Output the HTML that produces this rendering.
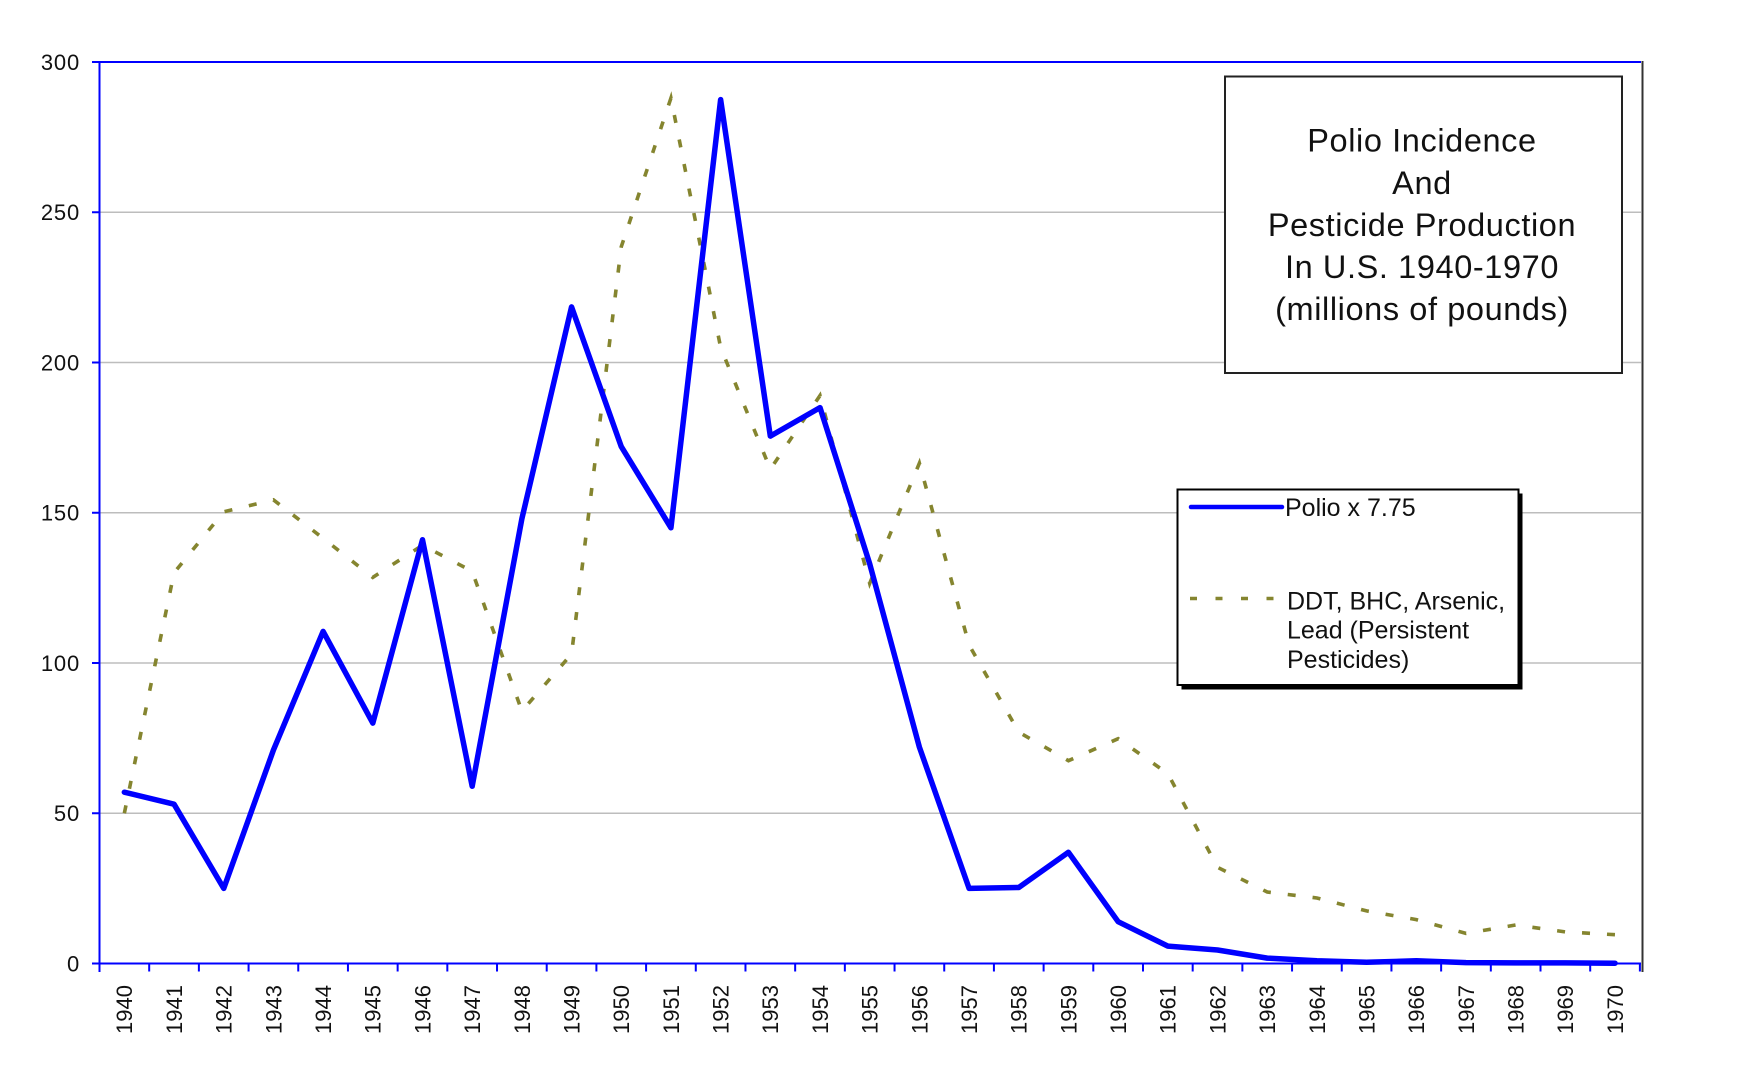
<!DOCTYPE html>
<html>
<head>
<meta charset="utf-8">
<style>
html,body{margin:0;padding:0;background:#fff;}
svg{display:block;}
text{font-family:"Liberation Sans",Arial,sans-serif;fill:#111;}
</style>
</head>
<body>
<svg width="1750" height="1072" viewBox="0 0 1750 1072" xmlns="http://www.w3.org/2000/svg">
<rect x="0" y="0" width="1750" height="1072" fill="#fff"/>

<!-- gridlines -->
<g stroke="#bdbdbd" stroke-width="1.6">
<line x1="99" y1="212.25" x2="1641" y2="212.25"/>
<line x1="99" y1="362.5" x2="1641" y2="362.5"/>
<line x1="99" y1="512.75" x2="1641" y2="512.75"/>
<line x1="99" y1="663" x2="1641" y2="663"/>
<line x1="99" y1="813.25" x2="1641" y2="813.25"/>
</g>

<!-- axes -->
<g stroke="#0000ff" stroke-width="2">
<line x1="92" y1="62" x2="1641" y2="62"/>
<line x1="99.5" y1="62" x2="99.5" y2="972"/>
<line x1="92" y1="963.5" x2="1641" y2="963.5"/>
<line x1="92" y1="212.25" x2="99.5" y2="212.25"/>
<line x1="92" y1="362.5" x2="99.5" y2="362.5"/>
<line x1="92" y1="512.75" x2="99.5" y2="512.75"/>
<line x1="92" y1="663" x2="99.5" y2="663"/>
<line x1="92" y1="813.25" x2="99.5" y2="813.25"/>
</g>
<g stroke="#0000ff" stroke-width="2">
<line x1="99.5" y1="963.5" x2="99.5" y2="971.5"/>
<line x1="149.19" y1="963.5" x2="149.19" y2="971.5"/>
<line x1="198.88" y1="963.5" x2="198.88" y2="971.5"/>
<line x1="248.57" y1="963.5" x2="248.57" y2="971.5"/>
<line x1="298.26" y1="963.5" x2="298.26" y2="971.5"/>
<line x1="347.95" y1="963.5" x2="347.95" y2="971.5"/>
<line x1="397.64" y1="963.5" x2="397.64" y2="971.5"/>
<line x1="447.33" y1="963.5" x2="447.33" y2="971.5"/>
<line x1="497.02" y1="963.5" x2="497.02" y2="971.5"/>
<line x1="546.71" y1="963.5" x2="546.71" y2="971.5"/>
<line x1="596.4" y1="963.5" x2="596.4" y2="971.5"/>
<line x1="646.09" y1="963.5" x2="646.09" y2="971.5"/>
<line x1="695.78" y1="963.5" x2="695.78" y2="971.5"/>
<line x1="745.47" y1="963.5" x2="745.47" y2="971.5"/>
<line x1="795.16" y1="963.5" x2="795.16" y2="971.5"/>
<line x1="844.85" y1="963.5" x2="844.85" y2="971.5"/>
<line x1="894.54" y1="963.5" x2="894.54" y2="971.5"/>
<line x1="944.23" y1="963.5" x2="944.23" y2="971.5"/>
<line x1="993.92" y1="963.5" x2="993.92" y2="971.5"/>
<line x1="1043.61" y1="963.5" x2="1043.61" y2="971.5"/>
<line x1="1093.3" y1="963.5" x2="1093.3" y2="971.5"/>
<line x1="1142.99" y1="963.5" x2="1142.99" y2="971.5"/>
<line x1="1192.68" y1="963.5" x2="1192.68" y2="971.5"/>
<line x1="1242.37" y1="963.5" x2="1242.37" y2="971.5"/>
<line x1="1292.06" y1="963.5" x2="1292.06" y2="971.5"/>
<line x1="1341.75" y1="963.5" x2="1341.75" y2="971.5"/>
<line x1="1391.44" y1="963.5" x2="1391.44" y2="971.5"/>
<line x1="1441.13" y1="963.5" x2="1441.13" y2="971.5"/>
<line x1="1490.82" y1="963.5" x2="1490.82" y2="971.5"/>
<line x1="1540.51" y1="963.5" x2="1540.51" y2="971.5"/>
<line x1="1590.2" y1="963.5" x2="1590.2" y2="971.5"/>
<line x1="1639.89" y1="963.5" x2="1639.89" y2="971.5"/>
</g>
<line x1="1642.5" y1="61" x2="1642.5" y2="972" stroke="#333" stroke-width="2"/>

<!-- y labels -->
<g font-size="22" text-anchor="end" letter-spacing="0.8">
<text x="80" y="70">300</text>
<text x="80" y="220.2">250</text>
<text x="80" y="370.5">200</text>
<text x="80" y="520.7">150</text>
<text x="80" y="671">100</text>
<text x="80" y="821.2">50</text>
<text x="80" y="971.5">0</text>
</g>

<!-- x labels -->
<g font-size="22" text-anchor="end">
<text transform="translate(132.2,985) rotate(-90)">1940</text>
<text transform="translate(181.9,985) rotate(-90)">1941</text>
<text transform="translate(231.6,985) rotate(-90)">1942</text>
<text transform="translate(281.3,985) rotate(-90)">1943</text>
<text transform="translate(331,985) rotate(-90)">1944</text>
<text transform="translate(380.7,985) rotate(-90)">1945</text>
<text transform="translate(430.4,985) rotate(-90)">1946</text>
<text transform="translate(480.1,985) rotate(-90)">1947</text>
<text transform="translate(529.8,985) rotate(-90)">1948</text>
<text transform="translate(579.5,985) rotate(-90)">1949</text>
<text transform="translate(629.1,985) rotate(-90)">1950</text>
<text transform="translate(678.8,985) rotate(-90)">1951</text>
<text transform="translate(728.5,985) rotate(-90)">1952</text>
<text transform="translate(778.2,985) rotate(-90)">1953</text>
<text transform="translate(827.9,985) rotate(-90)">1954</text>
<text transform="translate(877.6,985) rotate(-90)">1955</text>
<text transform="translate(927.3,985) rotate(-90)">1956</text>
<text transform="translate(977,985) rotate(-90)">1957</text>
<text transform="translate(1026.7,985) rotate(-90)">1958</text>
<text transform="translate(1076.4,985) rotate(-90)">1959</text>
<text transform="translate(1126,985) rotate(-90)">1960</text>
<text transform="translate(1175.7,985) rotate(-90)">1961</text>
<text transform="translate(1225.4,985) rotate(-90)">1962</text>
<text transform="translate(1275.1,985) rotate(-90)">1963</text>
<text transform="translate(1324.8,985) rotate(-90)">1964</text>
<text transform="translate(1374.5,985) rotate(-90)">1965</text>
<text transform="translate(1424.2,985) rotate(-90)">1966</text>
<text transform="translate(1473.9,985) rotate(-90)">1967</text>
<text transform="translate(1523.6,985) rotate(-90)">1968</text>
<text transform="translate(1573.2,985) rotate(-90)">1969</text>
<text transform="translate(1622.9,985) rotate(-90)">1970</text>
</g>

<!-- pesticide series (fallback polyline, smoothed by script) -->
<path id="pest" fill="none" stroke="#85852f" stroke-width="3.6" stroke-dasharray="8 17"
d="M124.35,813.2 L174.04,572.8 L223.73,511.8 L273.42,499.8 L323.11,538.3 L372.8,577.4 L422.49,545.2 L472.18,571.3 L521.87,711.1 L571.56,654 L621.25,246.8 L670.94,98.1 L720.63,347.5 L770.32,469.2 L820.01,395.6 L869.7,583.4 L919.39,463.2 L969.08,645 L1018.77,732.1 L1068.46,760.7 L1118.15,738.7 L1167.84,773.6 L1217.53,867.3 L1267.22,892 L1316.91,898 L1366.6,910.9 L1416.29,919.6 L1465.98,933.4 L1515.67,925 L1565.36,931.9 L1615.05,934.7"/>

<!-- polio series -->
<polyline fill="none" stroke="#0000ff" stroke-width="5.5" stroke-linejoin="round" stroke-linecap="round"
points="124.35,792.2 174.04,804.2 223.73,888.4 273.42,750.1 323.11,631.4 372.8,723.1 422.49,539.8 472.18,786.2 521.87,518.8 571.56,306.9 621.25,446.6 670.94,527.8 720.63,99.6 770.32,436.1 820.01,407.6 869.7,563.8 919.39,747.1 969.08,888.4 1018.77,887.5 1068.46,852.3 1118.15,921.7 1167.84,946.1 1217.53,950 1267.22,958.1 1316.91,960.8 1366.6,962.3 1416.29,960.8 1465.98,962.6 1515.67,962.9 1565.36,962.9 1615.05,963.2"/>

<!-- title box -->
<rect x="1225" y="76.5" width="397" height="296.5" fill="#fff" stroke="#222" stroke-width="2"/>
<g font-size="32.5" text-anchor="middle" letter-spacing="0.6">
<text x="1422" y="151.7">Polio Incidence</text>
<text x="1422" y="194">And</text>
<text x="1422" y="236">Pesticide Production</text>
<text x="1422" y="278">In U.S. 1940-1970</text>
<text x="1422" y="320">(millions of pounds)</text>
</g>

<!-- legend -->
<rect x="1181.5" y="493.5" width="341" height="196" fill="#000"/>
<rect x="1177.5" y="489.5" width="341" height="195.5" fill="#fff" stroke="#000" stroke-width="2"/>
<line x1="1191" y1="507" x2="1282" y2="507" stroke="#0000ff" stroke-width="4.5" stroke-linecap="round"/>
<line x1="1190" y1="598.5" x2="1278" y2="598.5" stroke="#85852f" stroke-width="3.6" stroke-dasharray="7 18.5"/>
<g font-size="25">
<text x="1285" y="516">Polio x 7.75</text>
<text x="1287" y="609.5">DDT, BHC, Arsenic,</text>
<text x="1287" y="638.5">Lead (Persistent</text>
<text x="1287" y="668">Pesticides)</text>
</g>

<script>
(function(){
  var P=[[124.35,813.2],[174.04,572.8],[223.73,511.8],[273.42,499.8],[323.11,538.3],[372.8,577.4],[422.49,545.2],[472.18,571.3],[521.87,711.1],[571.56,654],[621.25,246.8],[670.94,98.1],[720.63,347.5],[770.32,469.2],[820.01,395.6],[869.7,583.4],[919.39,463.2],[969.08,645],[1018.77,732.1],[1068.46,760.7],[1118.15,738.7],[1167.84,773.6],[1217.53,867.3],[1267.22,892],[1316.91,898],[1366.6,910.9],[1416.29,919.6],[1465.98,933.4],[1515.67,925],[1565.36,931.9],[1615.05,934.7]];
  var n=P.length;
  function T(i){var a=P[Math.max(i-1,0)],b=P[Math.min(i+1,n-1)];return [(b[0]-a[0])/6,(b[1]-a[1])/6];}
  function len(v){return Math.sqrt(v[0]*v[0]+v[1]*v[1]);}
  var d='M'+P[0][0]+','+P[0][1];
  for(var i=0;i<n-1;i++){
    var A=P[i],B=P[i+1],L=len([B[0]-A[0],B[1]-A[1]]);
    var d1=T(i),d2=T(i+1);
    var s1=Math.min(1,L/3/len(d1)),s2=Math.min(1,L/3/len(d2));
    var c1=[A[0]+d1[0]*s1,A[1]+d1[1]*s1],c2=[B[0]-d2[0]*s2,B[1]-d2[1]*s2];
    d+=' C'+c1[0].toFixed(2)+','+c1[1].toFixed(2)+' '+c2[0].toFixed(2)+','+c2[1].toFixed(2)+' '+B[0]+','+B[1];
  }
  document.getElementById('pest').setAttribute('d',d);
})();
</script>
</svg>
</body>
</html>
